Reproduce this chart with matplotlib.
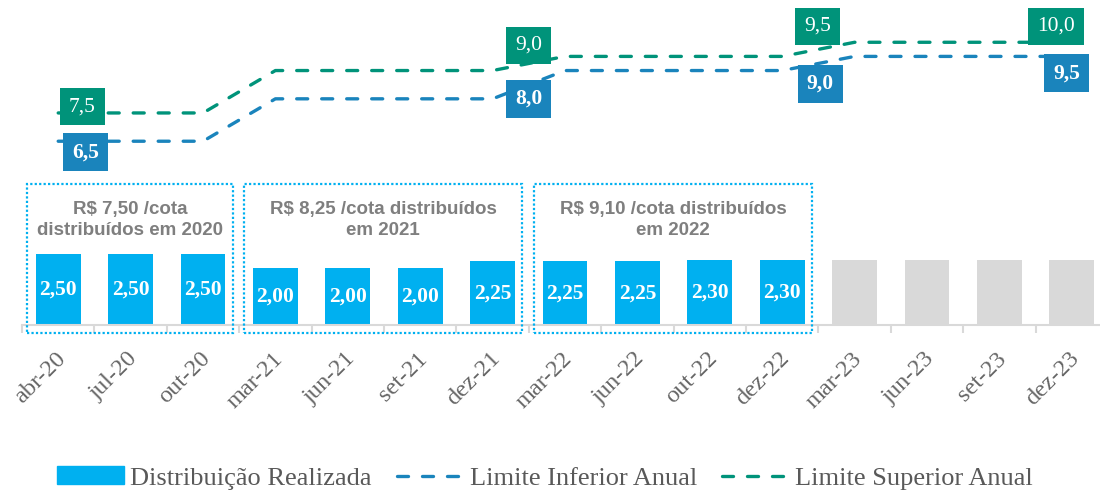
import matplotlib
matplotlib.use('Agg')
import matplotlib.pyplot as plt
import matplotlib.transforms as mtransforms
from matplotlib.patches import Rectangle, Patch
from matplotlib.lines import Line2D

periodos = ['abr-20', 'jul-20', 'out-20', 'mar-21', 'jun-21', 'set-21', 'dez-21',
            'mar-22', 'jun-22', 'out-22', 'dez-22', 'mar-23', 'jun-23', 'set-23', 'dez-23']
distribuicao = [2.50, 2.50, 2.50, 2.00, 2.00, 2.00, 2.25, 2.25, 2.25, 2.30, 2.30]
projetado = [2.30, 2.30, 2.30, 2.30]
limite_inf = [6.5, 6.5, 6.5, 8.0, 8.0, 8.0, 8.0, 9.0, 9.0, 9.0, 9.0, 9.5, 9.5, 9.5, 9.5]
limite_sup = [7.5, 7.5, 7.5, 9.0, 9.0, 9.0, 9.0, 9.5, 9.5, 9.5, 9.5, 10.0, 10.0, 10.0, 10.0]

# pontos com rótulo e deslocamento (px) da caixa
rotulos_sup = {0: (24, 6), 6: (36, 25), 10: (35, 30), 14: (-16, 16)}
rotulos_inf = {0: (27, -11), 6: (36, 0), 10: (38, -13), 14: (-5, -17)}

grupos = [(0, 2, 'R$ 7,50 /cota\ndistribuídos em 2020'),
          (3, 6, 'R$ 8,25 /cota distribuídos\nem 2021'),
          (7, 10, 'R$ 9,10 /cota distribuídos\nem 2022')]

AZUL_BARRA = '#00B0F0'
CINZA_BARRA = '#D9D9D9'
AZUL_LINHA = '#1A84BC'
VERDE_LINHA = '#00937A'
SERIF = 'Liberation Serif'

fig = plt.figure(figsize=(11, 4.92), dpi=100)
ax = fig.add_axes([22 / 1100, 167 / 492, 15 * 72.4 / 1100, 311 / 492])

x_real = list(range(len(distribuicao)))
x_proj = list(range(len(distribuicao), len(periodos)))

bars = ax.bar(x_real, distribuicao, width=0.62, color=AZUL_BARRA, zorder=2)
ax.bar(x_proj, projetado, width=0.62, color=CINZA_BARRA, zorder=2)
for b, v in zip(bars, distribuicao):
    ax.text(b.get_x() + b.get_width() / 2, v / 2, f'{v:.2f}'.replace('.', ','),
            ha='center', va='center', color='white', fontsize=15.5,
            fontweight='bold', family=SERIF, zorder=3)

xs = list(range(len(periodos)))
for serie, cor in ((limite_inf, AZUL_LINHA), (limite_sup, VERDE_LINHA)):
    ax.plot(xs, serie, color=cor, lw=2.4, linestyle=(0, (3.3, 4.2)),
            dash_capstyle='round', zorder=4)

for serie, rot, cor, peso in ((limite_sup, rotulos_sup, VERDE_LINHA, 'normal'),
                              (limite_inf, rotulos_inf, AZUL_LINHA, 'bold')):
    for i, (dx, dy) in rot.items():
        ax.annotate(f'{serie[i]:.1f}'.replace('.', ','), (i, serie[i]),
                    xytext=(dx, dy), textcoords='offset pixels',
                    ha='center', va='center', color='white', fontsize=15.5,
                    fontweight=peso, family=SERIF, zorder=6,
                    bbox=dict(boxstyle='square,pad=0.42', fc=cor, ec='none'))

for ini, fim, txt in grupos:
    esq, dir_ = ini - 0.43, fim + 0.41
    ax.add_patch(Rectangle((esq, -0.28), dir_ - esq, 5.26, fill=False,
                           ec=AZUL_BARRA, lw=1.6, linestyle=(0, (1, 1)),
                           clip_on=False, zorder=5))
    ax.text((esq + dir_) / 2, 3.7, txt, ha='center', va='center',
            color='#7F7F7F', fontsize=13.5, fontweight='bold',
            family='Liberation Sans', linespacing=1.3, zorder=5)

ax.set_xlim(-0.5, len(periodos) - 0.5)
ax.set_ylim(0, 11)
for s in ('top', 'right', 'left'):
    ax.spines[s].set_visible(False)
ax.spines['bottom'].set_color(CINZA_BARRA)
ax.spines['bottom'].set_linewidth(1.5)
ax.set_yticks([])
ax.set_xticks(xs)
ax.set_xticks([i - 0.5 for i in range(len(periodos) + 1)], minor=True)
ax.tick_params(axis='x', which='major', length=0, pad=22)
ax.tick_params(axis='x', which='minor', length=6, width=1.5, color=CINZA_BARRA)
ax.set_xticklabels(periodos, rotation=45, ha='right', va='center',
                   rotation_mode='anchor', fontsize=17.5, family=SERIF, color='#666666')
desloc = mtransforms.ScaledTranslation(4 / 100, 0, fig.dpi_scale_trans)
for lbl in ax.get_xticklabels():
    lbl.set_transform(lbl.get_transform() + desloc)

handles = [Patch(color=AZUL_BARRA),
           Line2D([], [], color=AZUL_LINHA, lw=2.4, linestyle=(0, (3.3, 4.2)), dash_capstyle='round'),
           Line2D([], [], color=VERDE_LINHA, lw=2.4, linestyle=(0, (3.3, 4.2)), dash_capstyle='round')]
nomes = ['Distribuição Realizada', 'Limite Inferior Anual', 'Limite Superior Anual']
fig.legend(handles, nomes, loc='center', bbox_to_anchor=(545 / 1100, 1 - 478 / 492),
           ncol=3, frameon=False, handlelength=2.55, handleheight=0.68,
           handletextpad=0.22, columnspacing=0.95,
           prop={'family': SERIF, 'size': 19}, labelcolor='#595959')

fig.savefig('out.png', dpi=100)
